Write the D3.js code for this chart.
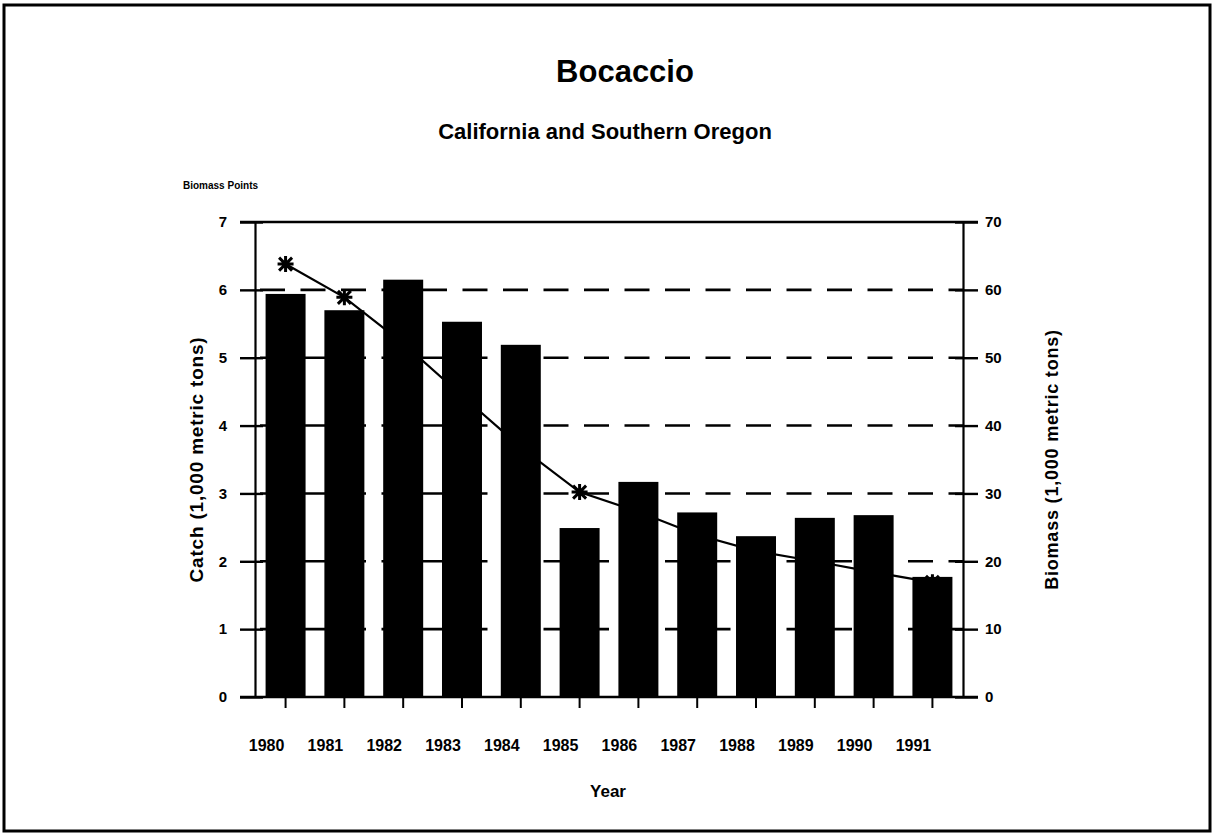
<!DOCTYPE html>
<meta charset="utf-8">
<style>
  body { margin: 0; background: #fff; }
  text { font-family: "Liberation Sans", Arial, sans-serif; font-weight: bold; fill: #000; }
</style>
<body>
  <script src="https://d3js.org/d3.v7.min.js"></script>
  <script>
    var width = 1214,
        height = 834;

    // values
    var years = ["1980", "1981", "1982", "1983", "1984", "1985", "1986", "1987", "1988", "1989", "1990", "1991"];
    var catchValues = [5.94, 5.70, 6.15, 5.53, 5.19, 2.49, 3.17, 2.72, 2.37, 2.64, 2.68, 1.77];
    var biomassValues = [63.8, 58.9, 52.1, 44.4, 36.8, 30.2, 27.3, 23.9, 21.5, 20.0, 18.4, 16.9];
    var biomassPointYears = ["1980", "1981", "1985", "1991"];
    var catchTicks = [0, 1, 2, 3, 4, 5, 6, 7];
    var biomassTicks = [0, 10, 20, 30, 40, 50, 60, 70];

    var plotLeft = 255, plotRight = 963, plotTop = 222, plotBottom = 697;

    var svg = d3.select("body").append("svg")
        .attr("width", width)
        .attr("height", height);

    // scanned page frame
    svg.append("rect")
        .attr("x", 4).attr("y", 5)
        .attr("width", 1206).attr("height", 826)
        .attr("fill", "none")
        .attr("stroke", "#000")
        .attr("stroke-width", 3);

    var x = d3.scaleBand()
        .domain(years)
        .range([plotLeft, plotRight])
        .paddingInner(0.32)
        .paddingOuter(0.18);

    var yL = d3.scaleLinear().domain([0, 7]).range([plotBottom, plotTop]);
    var yR = d3.scaleLinear().domain([0, 70]).range([plotBottom, plotTop]);

    // dashed grid, behind the bars
    var step = 40.5;
    svg.append("g").selectAll("line")
        .data(catchTicks.filter(function(d) { return d > 0 && d < 7; }))
        .enter().append("line")
        .attr("x1", plotLeft).attr("x2", plotRight)
        .attr("y1", function(d) { return yL(d); })
        .attr("y2", function(d) { return yL(d); })
        .attr("stroke", "#000")
        .attr("stroke-width", 2.6)
        .attr("stroke-dasharray", "25," + (step - 25))
        .attr("stroke-dashoffset", step - 5);

    // solid top and bottom rules
    svg.append("g").selectAll("line")
        .data([0, 7])
        .enter().append("line")
        .attr("x1", plotLeft - 15).attr("x2", plotRight + 15)
        .attr("y1", function(d) { return yL(d); })
        .attr("y2", function(d) { return yL(d); })
        .attr("stroke", "#000")
        .attr("stroke-width", 2.4);

    // bars
    svg.append("g").selectAll("rect")
        .data(years)
        .enter().append("rect")
        .attr("x", function(d) { return x(d); })
        .attr("width", x.bandwidth())
        .attr("y", function(d, i) { return yL(catchValues[i]); })
        .attr("height", function(d, i) { return plotBottom - yL(catchValues[i]); })
        .attr("fill", "#000");

    // left axis
    var gL = svg.append("g")
        .attr("transform", "translate(" + plotLeft + ",0)")
        .call(d3.axisLeft(yL).tickValues(catchTicks).tickFormat(d3.format("d"))
          .tickSize(15).tickSizeOuter(0).tickPadding(13));
    gL.selectAll(".tick line").attr("x1", 8).attr("stroke-width", 2.4);
    gL.select(".domain").attr("stroke-width", 2.2);
    gL.selectAll(".tick text")
        .style("font-size", "15px");

    // right axis
    var gR = svg.append("g")
        .attr("transform", "translate(" + plotRight + ",0)")
        .call(d3.axisRight(yR).tickValues(biomassTicks).tickFormat(d3.format("d"))
          .tickSize(15).tickSizeOuter(0).tickPadding(7));
    gR.selectAll(".tick line").attr("x1", -8).attr("stroke-width", 2.4);
    gR.select(".domain").attr("stroke-width", 2.2);
    gR.selectAll(".tick text")
        .style("font-size", "15px");

    // bottom axis, labels sit a little left of each bar
    var gX = svg.append("g")
        .attr("transform", "translate(0," + plotBottom + ")")
        .call(d3.axisBottom(x).tickSize(11).tickSizeOuter(0));
    gX.select(".domain").remove();
    gX.selectAll(".tick line").attr("stroke-width", 2);
    gX.selectAll(".tick text")
        .attr("x", -19)
        .attr("y", 54)
        .attr("dy", 0)
        .style("font-size", "16px");

    // biomass line
    var line = d3.line()
        .x(function(d, i) { return x(years[i]) + x.bandwidth() / 2; })
        .y(function(d) { return yR(d); });

    svg.append("path")
        .datum(biomassValues)
        .attr("d", line)
        .attr("fill", "none")
        .attr("stroke", "#000")
        .attr("stroke-width", 2.2);

    // asterisk markers where biomass was estimated
    var star = "M-8,0L8,0M0,-8L0,8M-6.5,-6.5L6.5,6.5M-6.5,6.5L6.5,-6.5";
    svg.append("g").selectAll("path")
        .data(biomassPointYears)
        .enter().append("path")
        .attr("transform", function(d) {
          var i = years.indexOf(d);
          return "translate(" + (x(d) + x.bandwidth() / 2) + "," + yR(biomassValues[i]) + ")";
        })
        .attr("d", star)
        .attr("fill", "none")
        .attr("stroke", "#000")
        .attr("stroke-width", 3);

    // titles and labels
    svg.append("text")
        .attr("x", 625).attr("y", 82)
        .attr("text-anchor", "middle")
        .style("font-size", "31px")
        .text("Bocaccio");

    svg.append("text")
        .attr("x", 605).attr("y", 139)
        .attr("text-anchor", "middle")
        .style("font-size", "22px")
        .text("California and Southern Oregon");

    svg.append("text")
        .attr("x", 183).attr("y", 189)
        .style("font-size", "10px")
        .text("Biomass Points");

    svg.append("text")
        .attr("transform", "translate(203," + (plotTop + plotBottom) / 2 + ") rotate(-90)")
        .attr("text-anchor", "middle")
        .style("font-size", "19px")
        .style("letter-spacing", "0.8px")
        .text("Catch (1,000 metric tons)");

    svg.append("text")
        .attr("transform", "translate(1058," + (plotTop + plotBottom) / 2 + ") rotate(-90)")
        .attr("text-anchor", "middle")
        .style("font-size", "18px")
        .style("letter-spacing", "0.8px")
        .text("Biomass (1,000 metric tons)");

    svg.append("text")
        .attr("x", 608).attr("y", 797)
        .attr("text-anchor", "middle")
        .style("font-size", "17px")
        .text("Year");
  </script>
</body>
</html>
